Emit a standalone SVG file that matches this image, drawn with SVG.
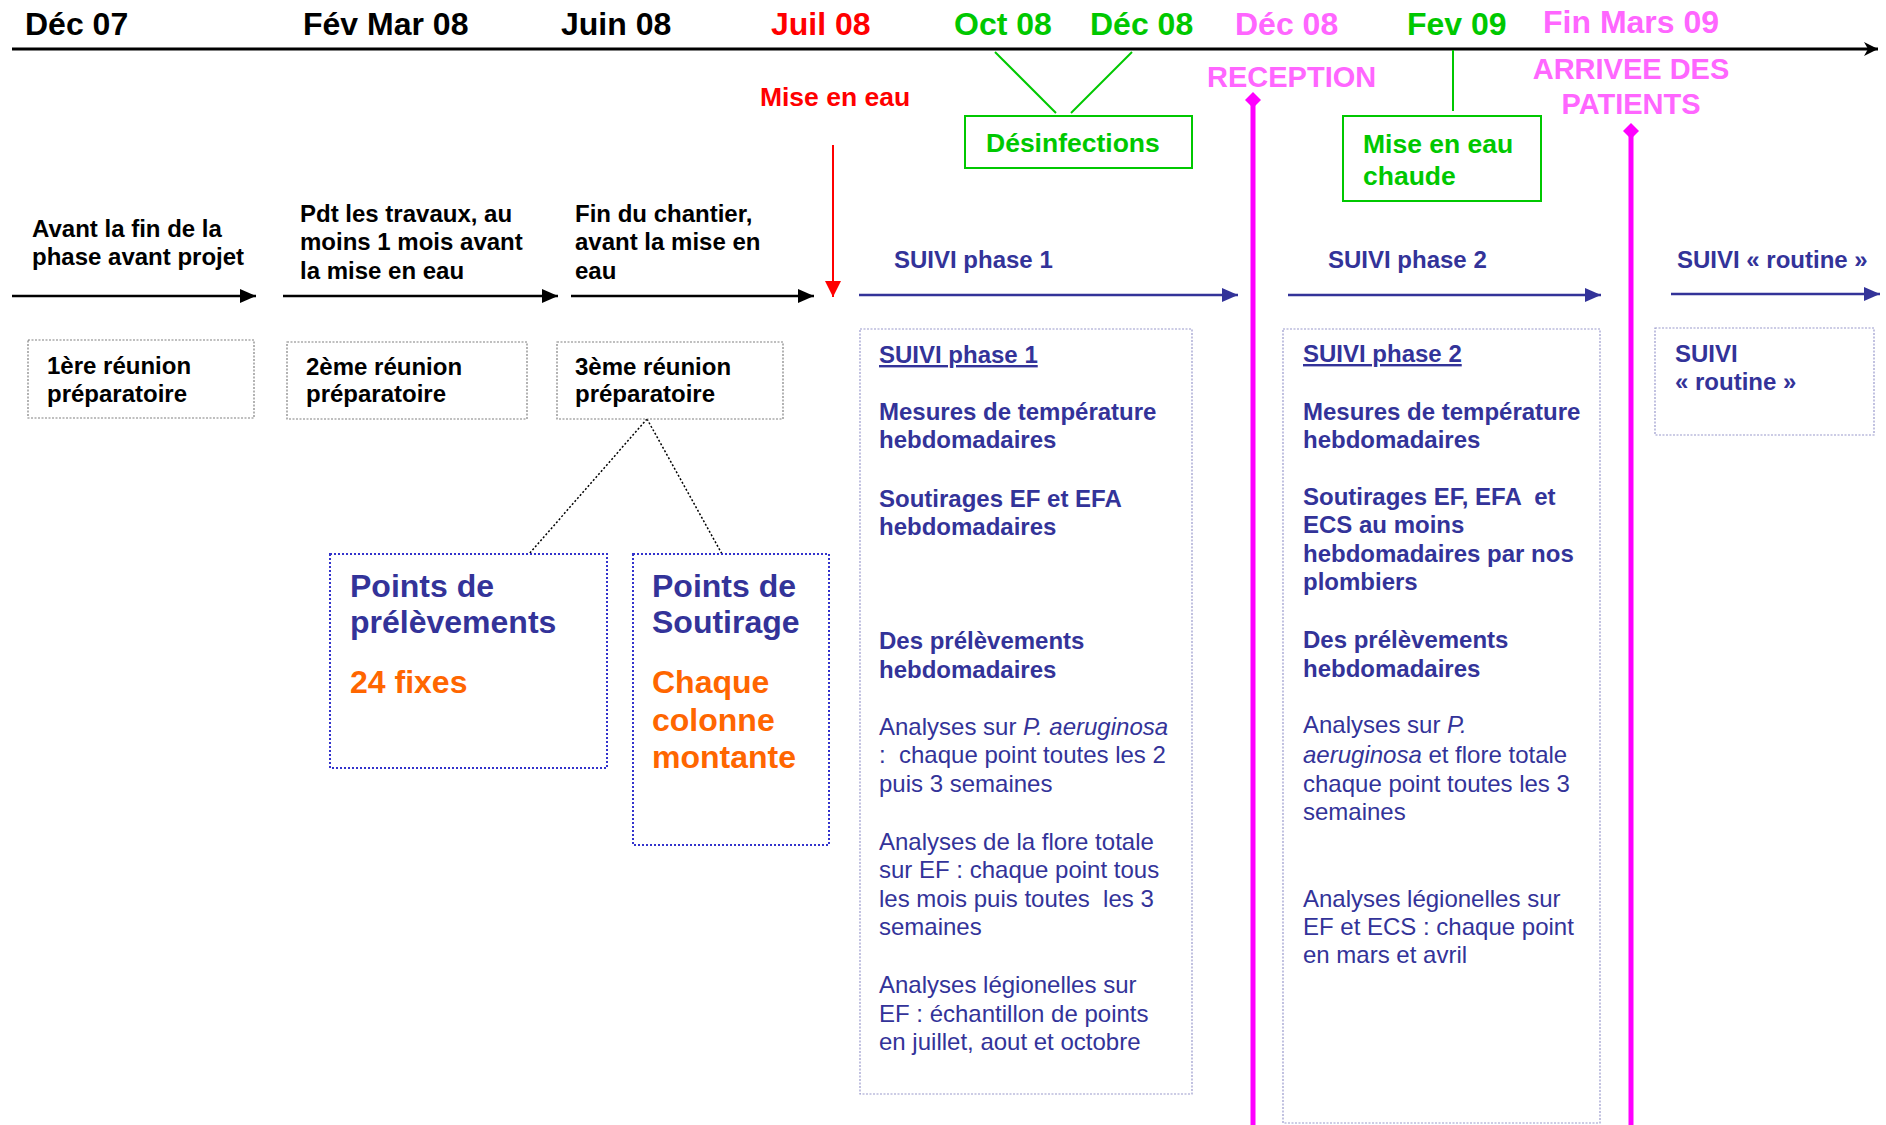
<svg xmlns="http://www.w3.org/2000/svg" width="1886" height="1125" viewBox="0 0 1886 1125">
<style>
text{font-family:"Liberation Sans",Arial,sans-serif;white-space:pre}
.date{font-size:32px;font-weight:bold}
.blk{fill:#000}
.red{fill:#FF0000}
.grn{fill:#00C800}
.pnk{fill:#FF66FF}
.hdr{font-size:24px;font-weight:bold;fill:#000}
.box{fill:#fff;stroke:#808080;stroke-width:1.2;stroke-dasharray:2 1.5}
.pbox{fill:#fff;stroke:#9999CC;stroke-width:1.2;stroke-dasharray:2 1.5}
.dbox{fill:#fff;stroke:#3333CC;stroke-width:2;stroke-dasharray:2 2}
.gbox{fill:#fff;stroke:#00C800;stroke-width:2}
.bb{font-size:24px;font-weight:bold;fill:#333399}
.br{font-size:24px;fill:#333399}
.big{font-size:32px;font-weight:bold;fill:#333399}
.org{font-size:32px;font-weight:bold;fill:#FF6600}
.g26{font-size:26.5px;font-weight:bold;fill:#00C800}
.p29{font-size:29px;font-weight:bold;fill:#FF66FF}
</style>
<defs>
<marker id="ak" markerUnits="userSpaceOnUse" markerWidth="18" markerHeight="14" refX="16" refY="7" orient="auto"><path d="M0,0 L16,7 L0,14 Z" fill="#000"/></marker>
<marker id="ab" markerUnits="userSpaceOnUse" markerWidth="18" markerHeight="14" refX="16" refY="7" orient="auto"><path d="M0,0 L16,7 L0,14 Z" fill="#333399"/></marker>
<marker id="ar" markerUnits="userSpaceOnUse" markerWidth="18" markerHeight="16" refX="16" refY="8" orient="auto"><path d="M0,0 L16,8 L0,16 Z" fill="#FF0000"/></marker>
<marker id="at" markerUnits="userSpaceOnUse" markerWidth="16" markerHeight="14" refX="14" refY="7" orient="auto"><path d="M0,0 L14,7 L0,14 L4,7 Z" fill="#000"/></marker>
</defs>

<g id="dates">
<text class="date blk" x="25" y="35">Déc 07</text>
<text class="date blk" x="303" y="35">Fév Mar 08</text>
<text class="date blk" x="561" y="35">Juin 08</text>
<text class="date red" x="771" y="35">Juil 08</text>
<text class="date grn" x="954" y="35">Oct 08</text>
<text class="date grn" x="1090" y="35">Déc 08</text>
<text class="date pnk" x="1235" y="35">Déc 08</text>
<text class="date grn" x="1407" y="35">Fev 09</text>
<text class="date pnk" x="1543" y="33">Fin Mars 09</text>
</g>

<g id="connectors" fill="none">
<line x1="12" y1="49" x2="1878" y2="49" stroke="#000" stroke-width="3" marker-end="url(#at)"/>
<line x1="995" y1="52" x2="1056" y2="113" stroke="#00C800" stroke-width="2"/>
<line x1="1132" y1="52" x2="1071" y2="113" stroke="#00C800" stroke-width="2"/>
<line x1="1453" y1="50" x2="1453" y2="111" stroke="#00C800" stroke-width="2"/>
<line x1="833" y1="145" x2="833" y2="297" stroke="#FF0000" stroke-width="2" marker-end="url(#ar)"/>
<line x1="12" y1="296" x2="256" y2="296" stroke="#000" stroke-width="2.5" marker-end="url(#ak)"/>
<line x1="283" y1="296" x2="558" y2="296" stroke="#000" stroke-width="2.5" marker-end="url(#ak)"/>
<line x1="571" y1="296" x2="814" y2="296" stroke="#000" stroke-width="2.5" marker-end="url(#ak)"/>
<line x1="859" y1="295" x2="1238" y2="295" stroke="#333399" stroke-width="2.5" marker-end="url(#ab)"/>
<line x1="1288" y1="295" x2="1601" y2="295" stroke="#333399" stroke-width="2.5" marker-end="url(#ab)"/>
<line x1="1671" y1="294" x2="1880" y2="294" stroke="#333399" stroke-width="2.5" marker-end="url(#ab)"/>
<line x1="647" y1="419" x2="529" y2="554" stroke="#000" stroke-width="1.5" stroke-dasharray="2 2"/>
<line x1="647" y1="419" x2="722" y2="554" stroke="#000" stroke-width="1.5" stroke-dasharray="2 2"/>
<line x1="1253" y1="100" x2="1253" y2="1125" stroke="#FF00FF" stroke-width="5"/>
<polygon points="1253,92 1261,100 1253,108 1245,100" fill="#FF00FF"/>
<line x1="1631" y1="131" x2="1631" y2="1125" stroke="#FF00FF" stroke-width="5"/>
<polygon points="1631,123 1639,131 1631,139 1623,131" fill="#FF00FF"/>
</g>

<g id="mise-en-eau"><text x="835" y="106" text-anchor="middle" font-size="26.5" font-weight="bold" fill="#FF0000">Mise en eau</text></g>

<g id="desinfections">
<rect class="gbox" x="965" y="116" width="227" height="52"/>
<text class="g26" x="986" y="152">Désinfections</text>
</g>

<g id="reception"><text class="p29" x="1207" y="87">RECEPTION</text></g>

<g id="mise-eau-chaude">
<rect class="gbox" x="1343" y="116" width="198" height="85"/>
<text class="g26" x="1363" y="153">Mise en eau</text>
<text class="g26" x="1363" y="185">chaude</text>
</g>

<g id="arrivee">
<text class="p29" x="1631" y="79" text-anchor="middle">ARRIVEE DES</text>
<text class="p29" x="1631" y="114" text-anchor="middle">PATIENTS</text>
</g>

<g id="step1">
<text class="hdr" x="32" y="237">Avant la fin de la</text>
<text class="hdr" x="32" y="265">phase avant projet</text>
</g>
<g id="step2">
<text class="hdr" x="300" y="222">Pdt les travaux, au</text>
<text class="hdr" x="300" y="250">moins 1 mois avant</text>
<text class="hdr" x="300" y="279">la mise en eau</text>
</g>
<g id="step3">
<text class="hdr" x="575" y="222">Fin du chantier,</text>
<text class="hdr" x="575" y="250">avant la mise en</text>
<text class="hdr" x="575" y="279">eau</text>
</g>

<g id="reunion1">
<rect class="box" x="28" y="340" width="226" height="78"/>
<text class="hdr" x="47" y="374">1ère réunion</text>
<text class="hdr" x="47" y="402">préparatoire</text>
</g>
<g id="reunion2">
<rect class="box" x="287" y="342" width="240" height="77"/>
<text class="hdr" x="306" y="375">2ème réunion</text>
<text class="hdr" x="306" y="402">préparatoire</text>
</g>
<g id="reunion3">
<rect class="box" x="557" y="342" width="226" height="77"/>
<text class="hdr" x="575" y="375">3ème réunion</text>
<text class="hdr" x="575" y="402">préparatoire</text>
</g>

<g id="points-prelevements">
<rect class="dbox" x="330" y="554" width="277" height="214"/>
<text class="big" x="350" y="597">Points de</text>
<text class="big" x="350" y="633">prélèvements</text>
<text class="org" x="350" y="693">24 fixes</text>
</g>
<g id="points-soutirage">
<rect class="dbox" x="633" y="554" width="196" height="291"/>
<text class="big" x="652" y="597">Points de</text>
<text class="big" x="652" y="633">Soutirage</text>
<text class="org" x="652" y="693">Chaque</text>
<text class="org" x="652" y="731">colonne</text>
<text class="org" x="652" y="768">montante</text>
</g>

<g id="suivi1-label"><text class="bb" x="894" y="268">SUIVI phase 1</text></g>
<g id="suivi2-label"><text class="bb" x="1328" y="268">SUIVI phase 2</text></g>
<g id="routine-label"><text class="bb" x="1677" y="268" font-size="23">SUIVI « routine »</text></g>

<g id="suivi1">
<rect class="pbox" x="860" y="329" width="332" height="765"/>
<text class="bb" x="879" y="363" text-decoration="underline">SUIVI phase 1</text>
<text class="bb" x="879" y="420">Mesures de température</text>
<text class="bb" x="879" y="448">hebdomadaires</text>
<text class="bb" x="879" y="507">Soutirages EF et EFA</text>
<text class="bb" x="879" y="535">hebdomadaires</text>
<text class="bb" x="879" y="649">Des prélèvements</text>
<text class="bb" x="879" y="678">hebdomadaires</text>
<text class="br" x="879" y="735">Analyses sur <tspan font-style="italic">P. aeruginosa</tspan></text>
<text class="br" x="879" y="763">:  chaque point toutes les 2</text>
<text class="br" x="879" y="792">puis 3 semaines</text>
<text class="br" x="879" y="850">Analyses de la flore totale</text>
<text class="br" x="879" y="878">sur EF : chaque point tous</text>
<text class="br" x="879" y="907">les mois puis toutes  les 3</text>
<text class="br" x="879" y="935">semaines</text>
<text class="br" x="879" y="993">Analyses légionelles sur</text>
<text class="br" x="879" y="1022">EF : échantillon de points</text>
<text class="br" x="879" y="1050">en juillet, aout et octobre</text>
</g>

<g id="suivi2">
<rect class="pbox" x="1283" y="329" width="317" height="794"/>
<text class="bb" x="1303" y="362" text-decoration="underline">SUIVI phase 2</text>
<text class="bb" x="1303" y="420">Mesures de température</text>
<text class="bb" x="1303" y="448">hebdomadaires</text>
<text class="bb" x="1303" y="505">Soutirages EF, EFA  et</text>
<text class="bb" x="1303" y="533">ECS au moins</text>
<text class="bb" x="1303" y="562">hebdomadaires par nos</text>
<text class="bb" x="1303" y="590">plombiers</text>
<text class="bb" x="1303" y="648">Des prélèvements</text>
<text class="bb" x="1303" y="677">hebdomadaires</text>
<text class="br" x="1303" y="733">Analyses sur <tspan font-style="italic">P.</tspan></text>
<text class="br" x="1303" y="763"><tspan font-style="italic">aeruginosa</tspan> et flore totale</text>
<text class="br" x="1303" y="792">chaque point toutes les 3</text>
<text class="br" x="1303" y="820">semaines</text>
<text class="br" x="1303" y="907">Analyses légionelles sur</text>
<text class="br" x="1303" y="935">EF et ECS : chaque point</text>
<text class="br" x="1303" y="963">en mars et avril</text>
</g>

<g id="routine">
<rect class="pbox" x="1655" y="328" width="219" height="107"/>
<text class="bb" x="1675" y="362">SUIVI</text>
<text class="bb" x="1675" y="390">« routine »</text>
</g>
</svg>
